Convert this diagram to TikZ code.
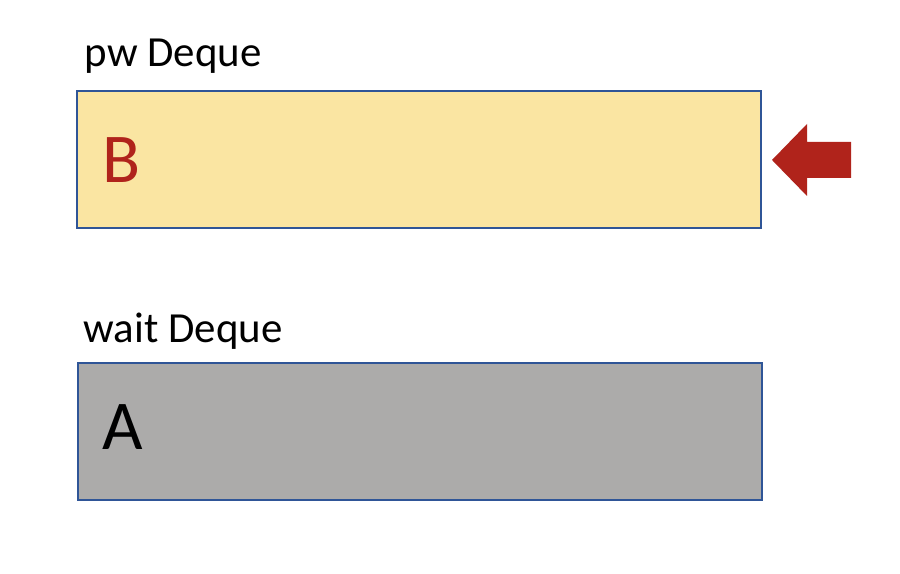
\documentclass[tikz,border=0pt]{standalone}
\usepackage{fontspec}
\setmainfont{Carlito}
\definecolor{dequeblue}{HTML}{2F5597}
\definecolor{pwyellow}{HTML}{FAE5A2}
\definecolor{waitgray}{HTML}{ACABAA}
\definecolor{pushred}{HTML}{B0231B}
\tikzset{
	dequebox/.style={draw=dequeblue, line width=0.5pt, rectangle, inner sep=0pt, minimum width=6.84cm, minimum height=1.37cm, anchor=north west},
	dequelabel/.style={anchor=base west, inner sep=0pt, font=\fontsize{12.2}{14}\selectfont},
	item/.style={anchor=base west, inner sep=0pt, font=\fontsize{19.9}{22}\selectfont}
}
\begin{document}
\begin{tikzpicture}[x=0.01cm,y=-0.01cm]
	\useasboundingbox (0,0) rectangle (900,574);
	%\draw[lightgray] (0,0) grid[step=100] (900,574);
	\node[dequelabel] (pwlabel) at (84,67) {pw Deque};
	\node[dequebox, fill=pwyellow] (pw) at (76,90) {};
	\node[item, text=pushred] (B) at (102,183) {B};
	\node[dequelabel] (waitlabel) at (83,343) {wait Deque};
	\node[dequebox, fill=waitgray] (wait) at (77,362) {};
	\node[item] (A) at (102,450) {A};
	% push arrow
	\coordinate (tip) at (772,160);
	\fill[pushred] (tip) -- (807,124) -- (807,142) -- (851,142) -- (851,178) -- (807,178) -- (807,196) -- cycle;
\end{tikzpicture}
\end{document}
